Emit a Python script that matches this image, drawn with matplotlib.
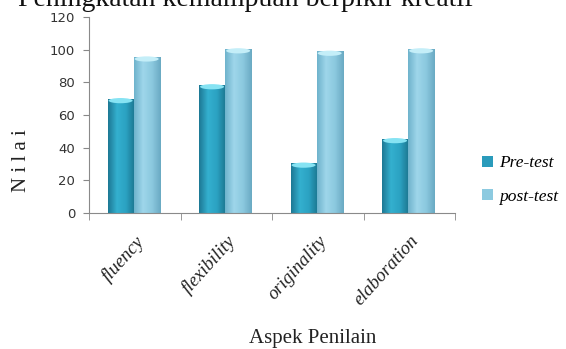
import numpy as np
import matplotlib
matplotlib.use("Agg")
import matplotlib.pyplot as plt
from matplotlib.patches import Ellipse
from matplotlib.colors import LinearSegmentedColormap

categories = ["fluency", "flexibility", "originality", "elaboration"]
pre_test = [70, 78.5, 30.5, 45.5]
post_test = [95.5, 100.5, 99, 100.5]
series_names = ["Pre-test", "post-test"]
yticks = [0, 20, 40, 60, 80, 100, 120]
title = "Peningkatan kemampuan berpikir kreatif"
ylabel = "N i l a i"
xlabel = "Aspek Penilain"

W, H = 566, 349
fig = plt.figure(figsize=(W / 100, H / 100), dpi=100)
ax = fig.add_axes([89 / W, 1 - 213 / H, 366 / W, 196 / H])

x = np.arange(len(categories))
bw = 0.285
pre_bars = ax.bar(x - 0.155, pre_test, bw, color="#2a9bbb", zorder=2)
post_bars = ax.bar(x + 0.13, post_test, bw, color="#8ccae0", zorder=2)

cm_pre = LinearSegmentedColormap.from_list("pre", ["#1d7894", "#34b0cf", "#2ba2c2", "#1c7690"])
cm_post = LinearSegmentedColormap.from_list("post", ["#6fb3cc", "#9ed6ea", "#8cc9df", "#6aaac3"])
grad = np.linspace(0, 1, 64).reshape(1, -1)
for bars, cm, capc in ((pre_bars, cm_pre, "#86e3f3"), (post_bars, cm_post, "#c4eef8")):
    for b in bars:
        x0, w, h = b.get_x(), b.get_width(), b.get_height()
        im = ax.imshow(grad, cmap=cm, aspect="auto", extent=(x0, x0 + w, 0, h), zorder=2.1)
        im.set_clip_path(b)
        ax.add_patch(Ellipse((x0 + w / 2, h - 1.2), w * 0.92, 3.2, color=capc, zorder=2.2, lw=0))

ax.set_xlim(-0.5, len(categories) - 0.5)
ax.set_ylim(0, 120)
ax.set_yticks(yticks)
ax.set_yticklabels([str(v) for v in yticks], fontsize=9.5, color="#333333", family="DejaVu Sans")
ax.tick_params(axis="y", length=4, color="#888888", pad=6)
ax.set_xticks(x)
ax.set_xticklabels(categories, rotation=48, ha="right", rotation_mode="anchor",
                   fontsize=13.5, style="italic", family="Liberation Serif", color="#222222")
ax.tick_params(axis="x", length=0, pad=14)
ax.set_xticks(np.arange(-0.5, len(categories), 1.0), minor=True)
ax.tick_params(axis="x", which="minor", length=5, color="#888888")
for s in ("top", "right"):
    ax.spines[s].set_visible(False)
for s in ("left", "bottom"):
    ax.spines[s].set_color("#8a8a8a")
ax.set_xlim(-0.5, len(categories) - 0.5)

fig.text(21 / W, 1 - 161 / H, ylabel, rotation=90, ha="center", va="center",
         fontsize=15, family="Liberation Serif", color="#222222")
fig.text(313 / W, 1 - 339 / H, xlabel, ha="center", va="center",
         fontsize=15, family="Liberation Serif", color="#222222")
fig.text(18 / W, 1 - 6 / H, title, ha="left", va="baseline",
         fontsize=20, family="Liberation Serif", color="#111111")

leg = fig.legend([pre_bars, post_bars], series_names, loc="center left",
                 bbox_to_anchor=(470 / W, 1 - 180 / H), frameon=False, borderpad=0.2,
                 prop={"family": "Liberation Serif", "style": "italic", "size": 12.5},
                 handlelength=0.6, handleheight=0.6, handletextpad=0.4, labelspacing=1.0)

fig.savefig("out.png", dpi=100)
